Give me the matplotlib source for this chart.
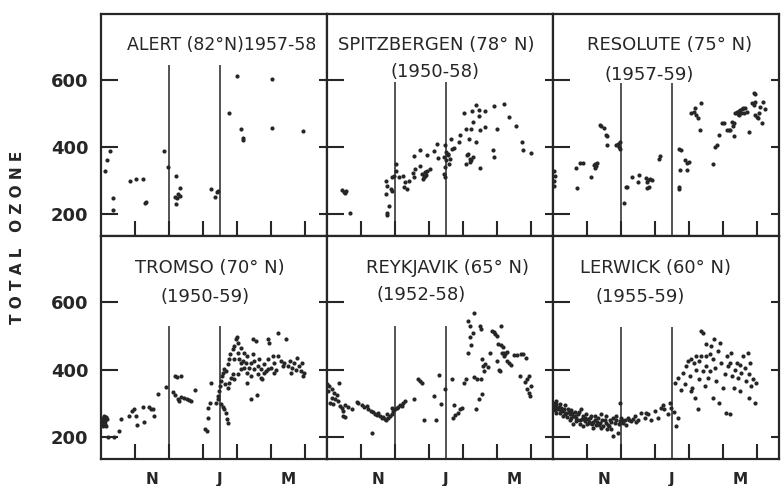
import matplotlib.pyplot as plt

# x = months counted from 1 October, y = total ozone
alert = [(0.27, 388), (0.17, 360), (0.13, 328), (0.34, 248), (0.36, 213),
         (0.86, 298), (1.03, 305), (1.25, 306), (1.31, 237), (1.30, 232),
         (1.86, 388), (1.96, 340), (2.20, 313), (2.31, 278), (2.27, 260),
         (2.18, 250), (2.24, 248), (2.33, 255), (2.20, 230), (3.24, 274),
         (3.40, 265), (3.45, 268), (3.36, 252), (3.78, 502), (3.99, 610),
         (4.12, 453), (4.19, 428), (4.19, 420), (5.04, 602), (5.03, 458),
         (5.95, 449)]

spitz = [(0.44, 272), (0.51, 265), (0.57, 268), (0.54, 262), (0.67, 204),
         (1.75, 300), (1.78, 285), (1.75, 260), (1.82, 225), (1.76, 203),
         (1.78, 198), (1.91, 310), (1.96, 315), (1.88, 275), (1.92, 270),
         (2.04, 348), (2.04, 330), (2.11, 310), (2.25, 315), (2.30, 295),
         (2.35, 275), (2.27, 280), (2.40, 300), (2.53, 322), (2.57, 310),
         (2.60, 335), (2.57, 373), (2.75, 390), (2.73, 342), (2.79, 320),
         (2.84, 310), (2.89, 325), (2.94, 330), (3.04, 335), (2.82, 305),
         (2.87, 315), (2.92, 318), (2.94, 375), (3.16, 387), (3.24, 410),
         (3.26, 367), (3.48, 405), (3.45, 370), (3.51, 360), (3.55, 375),
         (3.63, 365), (3.58, 350), (3.48, 340), (3.43, 320), (3.48, 310),
         (3.68, 395), (3.73, 397), (3.50, 385), (3.55, 380), (3.65, 425),
         (3.87, 415), (3.90, 437), (4.04, 500), (4.08, 455), (4.12, 375),
         (4.20, 365), (4.24, 360), (4.10, 350), (4.29, 370), (4.16, 380),
         (4.22, 355), (4.19, 425), (4.24, 453), (4.26, 508), (4.31, 475),
         (4.37, 415), (4.39, 525), (4.46, 510), (4.46, 493), (4.49, 450),
         (4.49, 338), (4.66, 508), (4.66, 460), (4.90, 522), (4.88, 392),
         (4.92, 370), (5.00, 455), (5.22, 528), (5.37, 490), (5.57, 463),
         (5.74, 415), (5.78, 392), (6.00, 382)]

resolute = [(0.02, 330), (0.05, 315), (0.02, 285), (0.03, 300), (0.68, 338),
            (0.70, 278), (0.80, 352), (0.87, 352), (1.13, 312), (1.20, 345),
            (1.25, 350), (1.23, 338), (1.30, 352), (1.27, 342), (1.39, 465),
            (1.42, 462), (1.49, 458), (1.57, 435), (1.60, 432), (1.60, 405),
            (1.84, 405), (1.91, 410), (1.95, 400), (1.98, 395), (1.96, 415),
            (2.08, 232), (2.15, 282), (2.18, 280), (2.32, 310), (2.50, 295),
            (2.54, 317), (2.74, 308), (2.80, 302), (2.86, 305), (2.91, 302),
            (2.77, 295), (2.82, 282), (2.77, 278), (3.11, 365), (3.16, 372),
            (3.70, 395), (3.78, 392), (3.75, 332), (3.70, 282), (3.72, 275),
            (3.89, 360), (3.94, 352), (4.01, 355), (3.95, 332), (4.07, 500),
            (4.14, 505), (4.21, 495), (4.17, 515), (4.27, 485), (4.36, 532),
            (4.33, 450), (4.70, 350), (4.76, 400), (4.83, 405), (4.87, 435),
            (4.97, 470), (5.02, 472), (5.12, 450), (5.17, 450), (5.22, 452),
            (5.26, 475), (5.31, 462), (5.34, 470), (5.34, 432), (5.36, 500),
            (5.41, 505), (5.46, 508), (5.51, 510), (5.56, 512), (5.61, 500),
            (5.46, 495), (5.66, 515), (5.71, 505), (5.43, 498), (5.53, 502),
            (5.58, 515), (5.76, 445), (5.85, 530), (5.90, 525), (5.95, 535),
            (5.90, 560), (5.95, 558), (5.95, 495), (6.00, 490), (6.05, 500),
            (6.15, 472), (6.17, 535), (6.23, 512), (6.10, 520), (6.02, 485)]

tromso = [(0.05, 258), (0.12, 248), (0.05, 238), (0.18, 253), (0.08, 262),
          (0.15, 233), (0.02, 250), (0.10, 242), (0.22, 201), (0.39, 201),
          (0.03, 245), (0.08, 255), (0.13, 240), (0.06, 232), (0.16, 260),
          (0.54, 218), (0.59, 253), (0.83, 262), (0.90, 277), (0.96, 284),
          (1.03, 262), (1.06, 235), (1.23, 290), (1.27, 245), (1.42, 290),
          (1.47, 284), (1.52, 282), (1.57, 262), (1.69, 327), (1.91, 349),
          (2.18, 381), (2.25, 379), (2.35, 381), (2.11, 334), (2.18, 324),
          (2.27, 314), (2.35, 320), (2.43, 317), (2.53, 314), (2.60, 310),
          (2.65, 307), (2.30, 307), (2.76, 340), (3.06, 223), (3.12, 218),
          (3.16, 258), (3.16, 287), (3.22, 300), (3.24, 361), (3.38, 302),
          (3.43, 312), (3.45, 322), (3.48, 337), (3.51, 351), (3.53, 366),
          (3.55, 381), (3.58, 391), (3.61, 401), (3.53, 297), (3.58, 290),
          (3.63, 282), (3.68, 272), (3.71, 255), (3.73, 243), (3.65, 356),
          (3.73, 346), (3.77, 361), (3.82, 376), (3.87, 386), (3.68, 396),
          (3.73, 416), (3.77, 430), (3.80, 445), (3.87, 460), (3.92, 470),
          (3.97, 490), (4.00, 498), (4.04, 480), (4.12, 465), (4.22, 450),
          (4.31, 440), (4.41, 421), (4.51, 426), (4.61, 411), (4.71, 401),
          (4.80, 416), (4.90, 430), (5.00, 406), (5.10, 421), (5.20, 440),
          (5.29, 426), (5.39, 421), (5.49, 411), (5.59, 391), (5.69, 421),
          (5.78, 435), (5.83, 411), (5.88, 396), (5.93, 381), (5.98, 391),
          (4.12, 421), (4.22, 406), (4.31, 391), (4.41, 381), (4.51, 401),
          (4.61, 386), (4.71, 376), (4.80, 391), (4.90, 401), (4.02, 386),
          (4.12, 401), (3.92, 371), (3.92, 430), (4.02, 450), (4.07, 430),
          (4.17, 426), (4.26, 421), (4.46, 490), (4.56, 485), (4.90, 490),
          (4.95, 478), (5.20, 507), (5.44, 491), (4.41, 312), (4.59, 324),
          (4.31, 361), (4.75, 371), (5.10, 391), (4.36, 406), (4.66, 430),
          (5.05, 440), (4.46, 445), (5.35, 410), (5.55, 425), (5.75, 400),
          (5.15, 400), (4.85, 395), (5.62, 405), (5.92, 420)]

reykjavik = [(0.00, 356), (0.06, 351), (0.14, 343), (0.04, 336), (0.22, 331),
             (0.28, 326), (0.14, 317), (0.24, 312), (0.33, 307), (0.09, 302),
             (0.19, 297), (0.38, 292), (0.43, 287), (0.53, 294), (0.63, 290),
             (0.48, 277), (0.73, 284), (0.35, 359), (0.48, 262), (0.53, 260),
             (0.87, 304), (0.92, 300), (1.02, 294), (1.10, 290), (1.17, 292),
             (1.22, 282), (1.29, 277), (1.36, 274), (1.41, 267), (1.46, 264),
             (1.51, 270), (1.56, 262), (1.61, 257), (1.66, 260), (1.71, 254),
             (1.75, 252), (1.80, 257), (1.85, 262), (1.90, 267), (1.95, 277),
             (2.00, 282), (2.05, 287), (2.10, 290), (2.15, 294), (2.20, 292),
             (2.25, 300), (2.29, 307), (1.90, 287), (1.78, 267), (1.31, 213),
             (2.57, 312), (2.67, 373), (2.74, 366), (2.80, 361), (2.86, 252),
             (3.16, 321), (3.21, 250), (3.30, 383), (3.35, 297), (3.47, 343),
             (3.67, 373), (3.75, 294), (3.70, 257), (3.76, 264), (3.84, 272),
             (3.91, 282), (3.96, 287), (4.04, 361), (4.08, 373), (4.14, 450),
             (4.14, 544), (4.21, 529), (4.21, 497), (4.23, 474), (4.33, 567),
             (4.30, 507), (4.33, 379), (4.37, 282), (4.40, 373), (4.47, 314),
             (4.50, 528), (4.53, 520), (4.53, 371), (4.55, 328), (4.57, 430),
             (4.60, 410), (4.63, 395), (4.65, 418), (4.73, 407), (4.80, 448),
             (4.85, 515), (4.90, 510), (4.95, 505), (4.99, 500), (5.00, 425),
             (5.05, 400), (5.08, 395), (5.03, 475), (5.11, 472), (5.18, 468),
             (5.11, 529), (5.15, 450), (5.20, 448), (5.25, 445), (5.30, 452),
             (5.22, 440), (5.30, 425), (5.35, 420), (5.40, 415), (5.50, 442),
             (5.60, 442), (5.70, 445), (5.77, 445), (5.87, 435), (5.68, 380),
             (5.83, 362), (5.88, 372), (5.95, 380), (5.88, 342), (5.95, 332),
             (5.98, 322), (6.00, 350)]

lerwick = [(0.00, 302), (0.05, 292), (0.10, 307), (0.15, 282), (0.20, 297),
           (0.25, 287), (0.29, 277), (0.34, 294), (0.39, 272), (0.44, 284),
           (0.49, 267), (0.54, 280), (0.59, 262), (0.64, 274), (0.69, 257),
           (0.74, 267), (0.78, 252), (0.83, 282), (0.88, 262), (0.93, 247),
           (0.98, 267), (1.03, 254), (1.08, 242), (1.13, 262), (1.18, 227),
           (1.23, 252), (1.27, 237), (1.32, 257), (1.37, 242), (1.42, 267),
           (1.47, 232), (1.52, 252), (1.57, 262), (1.62, 237), (1.67, 252),
           (1.72, 223), (1.76, 257), (1.81, 242), (1.86, 262), (1.91, 213),
           (1.96, 247), (2.01, 257), (2.06, 242), (2.11, 252), (2.21, 257),
           (2.30, 247), (2.40, 262), (2.50, 252), (2.60, 272), (2.70, 257),
           (2.79, 267), (2.89, 252), (2.99, 277), (3.09, 257), (3.19, 287),
           (3.28, 282), (3.38, 267), (3.43, 302), (3.48, 287), (3.63, 233),
           (3.68, 257), (0.10, 272), (0.29, 262), (0.49, 252), (0.69, 247),
           (0.88, 232), (1.18, 245), (1.76, 203), (1.98, 302), (0.05, 280),
           (0.20, 270), (0.40, 260), (0.60, 240), (0.80, 240), (1.00, 238),
           (1.40, 228), (1.60, 225), (2.15, 235), (2.45, 245), (2.75, 270),
           (0.02, 290), (0.08, 298), (0.12, 285), (0.18, 290), (0.23, 278),
           (0.32, 283), (0.36, 268), (0.46, 275), (0.52, 258), (0.57, 270),
           (0.66, 262), (0.72, 250), (0.76, 275), (0.85, 255), (0.95, 258),
           (1.05, 245), (1.10, 258), (1.15, 240), (1.25, 262), (1.30, 245),
           (1.35, 235), (1.45, 250), (1.55, 242), (1.65, 232), (1.70, 245),
           (1.84, 250), (1.93, 238), (2.03, 250), (2.25, 250), (2.35, 255),
           (3.25, 295), (3.55, 275), (3.58, 361), (3.68, 376), (3.77, 341),
           (3.82, 391), (3.87, 356), (3.92, 410), (3.97, 425), (4.02, 381),
           (4.07, 336), (4.10, 346), (4.14, 420), (4.17, 316), (4.20, 440),
           (4.22, 400), (4.26, 282), (4.30, 371), (4.31, 425), (4.36, 514),
           (4.41, 509), (4.46, 351), (4.49, 475), (4.51, 410), (4.56, 376),
           (4.61, 445), (4.66, 470), (4.70, 316), (4.71, 430), (4.75, 490),
           (4.78, 405), (4.80, 366), (4.85, 455), (4.88, 302), (4.90, 480),
           (4.95, 420), (5.00, 346), (5.05, 386), (5.08, 272), (5.12, 440),
           (5.15, 410), (5.20, 267), (5.25, 450), (5.28, 381), (5.32, 346),
           (5.37, 400), (5.41, 420), (5.44, 376), (5.49, 336), (5.54, 391),
           (5.59, 440), (5.64, 405), (5.69, 366), (5.74, 450), (5.77, 386),
           (5.78, 316), (5.83, 351), (5.88, 371), (5.93, 302), (5.98, 361),
           (4.51, 440), (4.36, 440), (4.05, 430), (4.40, 395), (4.62, 395),
           (5.20, 420), (5.50, 415), (5.80, 420)]

stations = [alert, spitz, resolute, tromso, reykjavik, lerwick]
names = ['ALERT (82°N)1957-58', 'SPITZBERGEN (78° N)', 'RESOLUTE (75° N)',
         'TROMSO (70° N)', 'REYKJAVIK (65° N)', 'LERWICK (60° N)']
years = ['', '(1950-58)', '(1957-59)', '(1950-59)', '(1952-58)', '(1955-59)']
line_tops = [645, 594, 591, 529, 529, 527]
month_ticks = [1, 2, 3, 4, 5, 6]
month_labels = ['N', 'J', 'M']
ozone_ticks = [200, 400, 600]

ink = '#262626'
fig = plt.figure(figsize=(7.81, 4.86), dpi=100)
W, H = 781, 486
col_left = [101, 327, 553]
rows = [(236, 222), (459, 223)]
name_pos = [(0.115, 0.86), (0.049, 0.86), (0.15, 0.86), (0.15, 0.857), (0.173, 0.857), (0.12, 0.857)]
year_pos = [(0, 0), (0.283, 0.739), (0.23, 0.725), (0.265, 0.726), (0.217, 0.735), (0.186, 0.726)]
name_size = [12.5, 13, 13, 13, 13, 13]

for i, pts in enumerate(stations):
    r, c = divmod(i, 3)
    ax = fig.add_axes([col_left[c] / W, (H - rows[r][0]) / H, 226 / W, rows[r][1] / H])
    xs = [p[0] for p in pts]
    ys = [p[1] for p in pts]
    ax.scatter(xs, ys, s=9, color=ink, linewidths=0)
    ax.vlines([2.0, 3.5], 135, line_tops[i], color=ink, lw=1.1)
    ax.set_xlim(0, 6.65)
    ax.set_ylim(135, 796)
    for sp in ax.spines.values():
        sp.set_linewidth(1.6)
        sp.set_color(ink)

    ax.set_xticks(month_ticks)
    ax.set_xticklabels([])
    ax.tick_params(axis='x', which='major', direction='in', length=11, width=1.5, color=ink)
    if r == 1:
        ax.set_xticks([1.5, 3.5, 5.5], minor=True)
        ax.set_xticklabels(month_labels, minor=True, fontsize=11, weight='bold', color=ink)
        ax.tick_params(axis='x', which='minor', length=0, pad=9)

    ax.yaxis.remove_overlapping_locs = False
    ax.set_yticks(ozone_ticks)
    ax.set_yticks(ozone_ticks, minor=True)
    ax.tick_params(axis='y', which='major', direction='in', length=12, width=1.5,
                   left=True, right=False, color=ink, pad=9)
    ax.tick_params(axis='y', which='minor', direction='in', length=6, width=1.5,
                   left=False, right=True, color=ink)
    if c == 0:
        ax.set_yticklabels([str(v) for v in ozone_ticks], fontsize=13, weight='bold', color=ink)
    else:
        ax.set_yticklabels([])

    ax.text(name_pos[i][0], name_pos[i][1], names[i], transform=ax.transAxes,
            ha='left', va='center', fontsize=name_size[i], color=ink)
    if years[i]:
        ax.text(year_pos[i][0], year_pos[i][1], years[i], transform=ax.transAxes,
                ha='left', va='center', fontsize=13, color=ink)

fig.text(18 / W, 1 - 237 / H, 'T O T A L   O Z O N E', rotation=90, ha='center', va='center',
         fontsize=11, weight='bold', color=ink)

fig.savefig('out.png', dpi=100)
